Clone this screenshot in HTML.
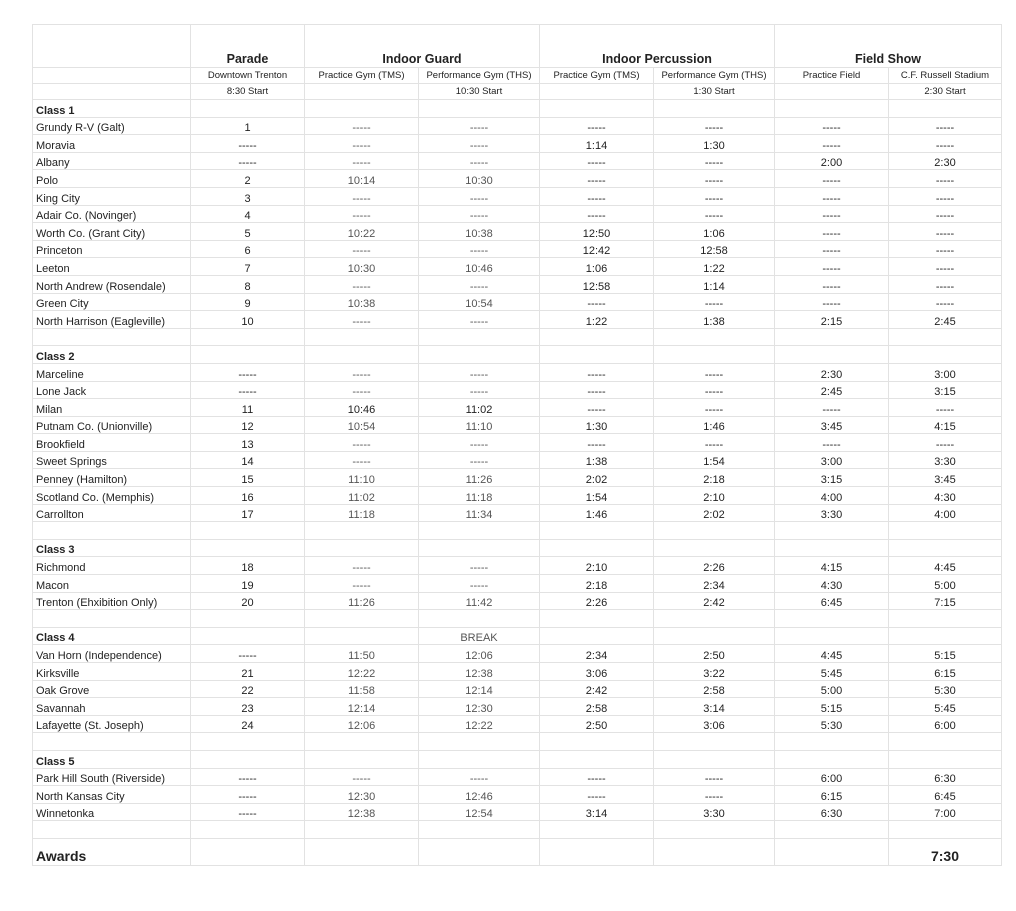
<!DOCTYPE html>
<html><head><meta charset="utf-8"><style>
body{margin:0;background:#fff;width:1016px;height:911px;overflow:hidden}
table{position:absolute;left:32px;top:24px;border-collapse:collapse;table-layout:fixed;font-family:"Liberation Sans",Arial,sans-serif;font-size:11px;color:#222}
td{border:1px solid #e2e2e2;padding:0 3px;height:16.6px;text-align:center;white-space:nowrap;overflow:hidden;line-height:12px;vertical-align:bottom}
td:first-child{text-align:left}
tr.h td{height:41px;font-weight:bold;font-size:12.5px;padding-bottom:1px;line-height:14px}
tr.s td{height:15px;font-size:9.5px;vertical-align:middle;line-height:11px}
tr.c td:first-child{font-weight:bold}
td.g{color:#555}
tr.a td{height:25px;font-size:14px;font-weight:bold;vertical-align:bottom;padding-bottom:1px;line-height:16px}
</style></head><body>
<table>
<colgroup><col style="width:158px"><col style="width:114px"><col style="width:114px"><col style="width:121px"><col style="width:114px"><col style="width:121px"><col style="width:114px"><col style="width:113px"></colgroup>
<tr class="h"><td></td><td>Parade</td><td colspan="2">Indoor Guard</td><td colspan="2">Indoor Percussion</td><td colspan="2">Field Show</td></tr>
<tr class="s"><td></td><td>Downtown Trenton</td><td>Practice Gym (TMS)</td><td>Performance Gym (THS)</td><td>Practice Gym (TMS)</td><td>Performance Gym (THS)</td><td>Practice Field</td><td>C.F. Russell Stadium</td></tr>
<tr class="s"><td></td><td>8:30 Start</td><td></td><td>10:30 Start</td><td></td><td>1:30 Start</td><td></td><td>2:30 Start</td></tr>
<tr class="c"><td>Class 1</td><td></td><td></td><td></td><td></td><td></td><td></td><td></td></tr>
<tr><td>Grundy R-V (Galt)</td><td>1</td><td class="g">-----</td><td class="g">-----</td><td>-----</td><td>-----</td><td>-----</td><td>-----</td></tr>
<tr><td>Moravia</td><td>-----</td><td class="g">-----</td><td class="g">-----</td><td>1:14</td><td>1:30</td><td>-----</td><td>-----</td></tr>
<tr><td>Albany</td><td>-----</td><td class="g">-----</td><td class="g">-----</td><td>-----</td><td>-----</td><td>2:00</td><td>2:30</td></tr>
<tr><td>Polo</td><td>2</td><td class="g">10:14</td><td class="g">10:30</td><td>-----</td><td>-----</td><td>-----</td><td>-----</td></tr>
<tr><td>King City</td><td>3</td><td class="g">-----</td><td class="g">-----</td><td>-----</td><td>-----</td><td>-----</td><td>-----</td></tr>
<tr><td>Adair Co. (Novinger)</td><td>4</td><td class="g">-----</td><td class="g">-----</td><td>-----</td><td>-----</td><td>-----</td><td>-----</td></tr>
<tr><td>Worth Co. (Grant City)</td><td>5</td><td class="g">10:22</td><td class="g">10:38</td><td>12:50</td><td>1:06</td><td>-----</td><td>-----</td></tr>
<tr><td>Princeton</td><td>6</td><td class="g">-----</td><td class="g">-----</td><td>12:42</td><td>12:58</td><td>-----</td><td>-----</td></tr>
<tr><td>Leeton</td><td>7</td><td class="g">10:30</td><td class="g">10:46</td><td>1:06</td><td>1:22</td><td>-----</td><td>-----</td></tr>
<tr><td>North Andrew (Rosendale)</td><td>8</td><td class="g">-----</td><td class="g">-----</td><td>12:58</td><td>1:14</td><td>-----</td><td>-----</td></tr>
<tr><td>Green City</td><td>9</td><td class="g">10:38</td><td class="g">10:54</td><td>-----</td><td>-----</td><td>-----</td><td>-----</td></tr>
<tr><td>North Harrison (Eagleville)</td><td>10</td><td class="g">-----</td><td class="g">-----</td><td>1:22</td><td>1:38</td><td>2:15</td><td>2:45</td></tr>
<tr><td></td><td></td><td></td><td></td><td></td><td></td><td></td><td></td></tr>
<tr class="c"><td>Class 2</td><td></td><td></td><td></td><td></td><td></td><td></td><td></td></tr>
<tr><td>Marceline</td><td>-----</td><td class="g">-----</td><td class="g">-----</td><td>-----</td><td>-----</td><td>2:30</td><td>3:00</td></tr>
<tr><td>Lone Jack</td><td>-----</td><td class="g">-----</td><td class="g">-----</td><td>-----</td><td>-----</td><td>2:45</td><td>3:15</td></tr>
<tr><td>Milan</td><td>11</td><td>10:46</td><td>11:02</td><td>-----</td><td>-----</td><td>-----</td><td>-----</td></tr>
<tr><td>Putnam Co. (Unionville)</td><td>12</td><td class="g">10:54</td><td class="g">11:10</td><td>1:30</td><td>1:46</td><td>3:45</td><td>4:15</td></tr>
<tr><td>Brookfield</td><td>13</td><td class="g">-----</td><td class="g">-----</td><td>-----</td><td>-----</td><td>-----</td><td>-----</td></tr>
<tr><td>Sweet Springs</td><td>14</td><td class="g">-----</td><td class="g">-----</td><td>1:38</td><td>1:54</td><td>3:00</td><td>3:30</td></tr>
<tr><td>Penney (Hamilton)</td><td>15</td><td class="g">11:10</td><td class="g">11:26</td><td>2:02</td><td>2:18</td><td>3:15</td><td>3:45</td></tr>
<tr><td>Scotland Co. (Memphis)</td><td>16</td><td class="g">11:02</td><td class="g">11:18</td><td>1:54</td><td>2:10</td><td>4:00</td><td>4:30</td></tr>
<tr><td>Carrollton</td><td>17</td><td class="g">11:18</td><td class="g">11:34</td><td>1:46</td><td>2:02</td><td>3:30</td><td>4:00</td></tr>
<tr><td></td><td></td><td></td><td></td><td></td><td></td><td></td><td></td></tr>
<tr class="c"><td>Class 3</td><td></td><td></td><td></td><td></td><td></td><td></td><td></td></tr>
<tr><td>Richmond</td><td>18</td><td class="g">-----</td><td class="g">-----</td><td>2:10</td><td>2:26</td><td>4:15</td><td>4:45</td></tr>
<tr><td>Macon</td><td>19</td><td class="g">-----</td><td class="g">-----</td><td>2:18</td><td>2:34</td><td>4:30</td><td>5:00</td></tr>
<tr><td>Trenton (Ehxibition Only)</td><td>20</td><td class="g">11:26</td><td class="g">11:42</td><td>2:26</td><td>2:42</td><td>6:45</td><td>7:15</td></tr>
<tr><td></td><td></td><td></td><td></td><td></td><td></td><td></td><td></td></tr>
<tr class="c"><td>Class 4</td><td></td><td></td><td class="g">BREAK</td><td></td><td></td><td></td><td></td></tr>
<tr><td>Van Horn (Independence)</td><td>-----</td><td class="g">11:50</td><td class="g">12:06</td><td>2:34</td><td>2:50</td><td>4:45</td><td>5:15</td></tr>
<tr><td>Kirksville</td><td>21</td><td class="g">12:22</td><td class="g">12:38</td><td>3:06</td><td>3:22</td><td>5:45</td><td>6:15</td></tr>
<tr><td>Oak Grove</td><td>22</td><td class="g">11:58</td><td class="g">12:14</td><td>2:42</td><td>2:58</td><td>5:00</td><td>5:30</td></tr>
<tr><td>Savannah</td><td>23</td><td class="g">12:14</td><td class="g">12:30</td><td>2:58</td><td>3:14</td><td>5:15</td><td>5:45</td></tr>
<tr><td>Lafayette (St. Joseph)</td><td>24</td><td class="g">12:06</td><td class="g">12:22</td><td>2:50</td><td>3:06</td><td>5:30</td><td>6:00</td></tr>
<tr><td></td><td></td><td></td><td></td><td></td><td></td><td></td><td></td></tr>
<tr class="c"><td>Class 5</td><td></td><td></td><td></td><td></td><td></td><td></td><td></td></tr>
<tr><td>Park Hill South (Riverside)</td><td>-----</td><td class="g">-----</td><td class="g">-----</td><td>-----</td><td>-----</td><td>6:00</td><td>6:30</td></tr>
<tr><td>North Kansas City</td><td>-----</td><td class="g">12:30</td><td class="g">12:46</td><td>-----</td><td>-----</td><td>6:15</td><td>6:45</td></tr>
<tr><td>Winnetonka</td><td>-----</td><td class="g">12:38</td><td class="g">12:54</td><td>3:14</td><td>3:30</td><td>6:30</td><td>7:00</td></tr>
<tr><td></td><td></td><td></td><td></td><td></td><td></td><td></td><td></td></tr>
<tr class="a"><td>Awards</td><td></td><td></td><td></td><td></td><td></td><td></td><td>7:30</td></tr>
</table>
</body></html>
